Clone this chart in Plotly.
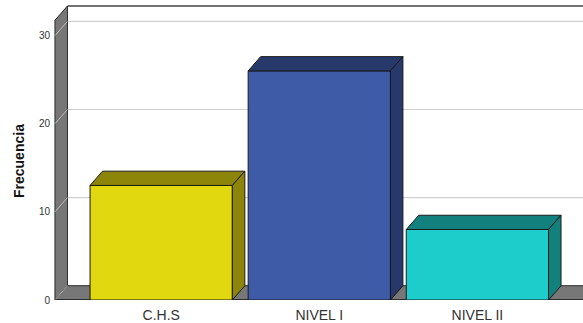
import plotly.graph_objects as go

# ---- data ----
categories = ["C.H.S", "NIVEL I", "NIVEL II"]
frecuencia = [13, 26, 8]
y_ticks = [0, 10, 20, 30]
front_colors = ["#E2D810", "#3E5BA8", "#1DCDCB"]
shade_colors = ["#8D8509", "#27386B", "#12807D"]

# ---- 3D geometry (in axis units) ----
BAR_W = 0.9
DX = 0.079
DY = 1.62
X0 = -0.672          # front-left wall edge
X_RANGE = [-0.678, 2.668]
Y_RANGE = [0, 33.48]
WALL_TOP = 33.37     # back wall top (already includes depth)
X1 = X_RANGE[1] + 0.05

xs = list(range(len(categories)))

fig = go.Figure()

# front faces
fig.add_trace(go.Bar(
    x=xs, y=frecuencia, width=BAR_W,
    marker=dict(color=front_colors, line=dict(color="#1a1a1a", width=1)),
    hoverinfo="skip", showlegend=False,
))

# top and side faces
for c, v, col in zip(xs, frecuencia, shade_colors):
    l, r = c - BAR_W / 2, c + BAR_W / 2
    fig.add_trace(go.Scatter(
        x=[l, l + DX, r + DX, r, l], y=[v, v + DY, v + DY, v, v],
        fill="toself", fillcolor=col, mode="lines",
        line=dict(color="#1a1a1a", width=1), hoverinfo="skip", showlegend=False))
    fig.add_trace(go.Scatter(
        x=[r, r + DX, r + DX, r, r], y=[0, DY, v + DY, v, 0],
        fill="toself", fillcolor=col, mode="lines",
        line=dict(color="#1a1a1a", width=1), hoverinfo="skip", showlegend=False))

shapes = []
# back wall
shapes.append(dict(type="rect", xref="x", yref="y", x0=X0 + DX, x1=X1, y0=DY, y1=WALL_TOP,
                   fillcolor="white", line=dict(width=0), layer="below"))
# back grid lines
for t in y_ticks[1:]:
    shapes.append(dict(type="line", xref="x", yref="y", x0=X0 + DX, x1=X1, y0=t + DY, y1=t + DY,
                       line=dict(color="#D0D0D0", width=1.2), layer="below"))
# left wall
shapes.append(dict(type="path", xref="x", yref="y",
                   path=f"M {X0},0 L {X0 + DX},{DY} L {X0 + DX},{WALL_TOP} L {X0},{WALL_TOP - DY} Z",
                   fillcolor="#777777", line=dict(color="#2a2a2a", width=1), layer="below"))
# floor
shapes.append(dict(type="path", xref="x", yref="y",
                   path=f"M {X0},0 L {X1},0 L {X1},{DY} L {X0 + DX},{DY} Z",
                   fillcolor="#777777", line=dict(color="#2a2a2a", width=1), layer="below"))
# wall grid diagonals
for t in y_ticks:
    shapes.append(dict(type="line", xref="x", yref="y", x0=X0, x1=X0 + DX, y0=t, y1=t + DY,
                       line=dict(color="#BBBBBB", width=1), layer="below"))
# back wall top border
shapes.append(dict(type="line", xref="x", yref="y", x0=X0 + DX, x1=X1, y0=WALL_TOP, y1=WALL_TOP,
                   line=dict(color="#444444", width=1.5), layer="below"))
# floor front edge
shapes.append(dict(type="line", xref="x", yref="y", x0=X0, x1=X1, y0=0, y1=0,
                   line=dict(color="#222222", width=1.5), layer="below"))

fig.update_layout(
    width=583, height=323,
    margin=dict(l=54, r=0, t=5, b=23),
    paper_bgcolor="white", plot_bgcolor="white",
    shapes=shapes,
    xaxis=dict(range=X_RANGE, tickvals=xs, ticktext=categories, showgrid=False,
               zeroline=False, showline=False, ticks="", ticklabelstandoff=5,
               tickfont=dict(family="Arial, Liberation Sans", size=14, color="#333333")),
    yaxis=dict(range=Y_RANGE, tickvals=y_ticks, showgrid=False, zeroline=False,
               showline=False, ticks="", ticklabelstandoff=3,
               tickfont=dict(family="Arial, Liberation Sans", size=10, color="#333333")),
    annotations=[dict(text="<b>Frecuencia</b>", textangle=-90, xref="paper", yref="paper",
                      x=(19 - 54) / 529, y=(300 - 161) / 295, xanchor="center", yanchor="middle",
                      showarrow=False,
                      font=dict(family="Arial, Liberation Sans", size=14, color="#111111"))],
)

fig.write_html("out.html")
